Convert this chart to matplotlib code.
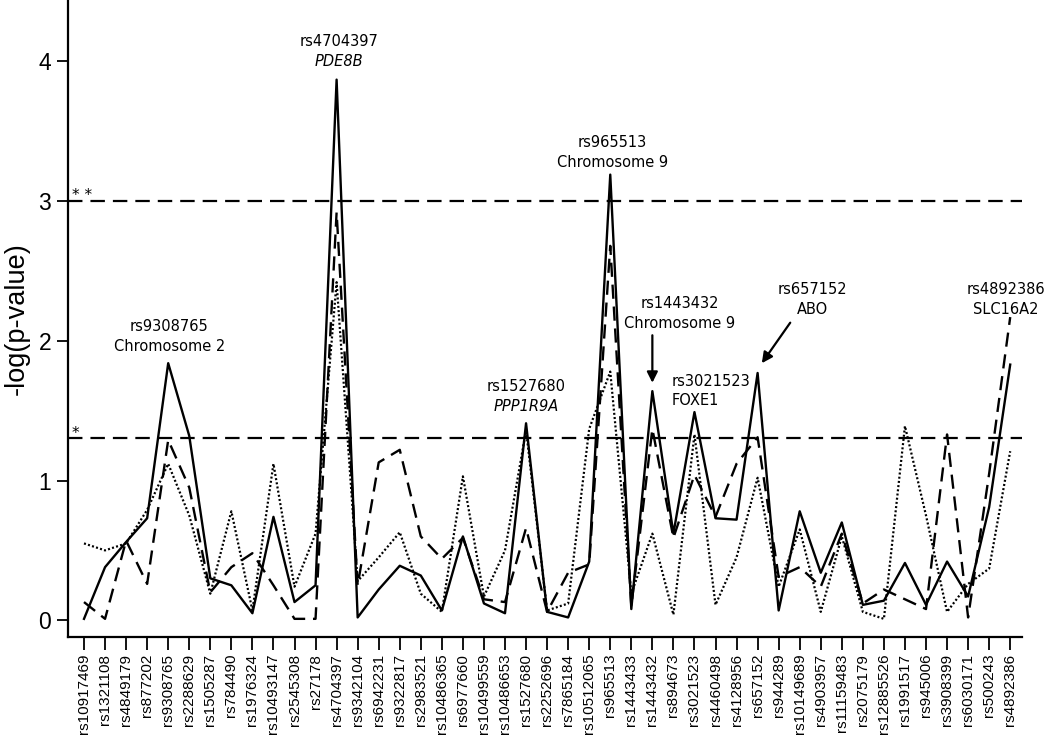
#!/usr/bin/env python3
"""Line plot of -log(p-value) per SNP for three association tests."""

import matplotlib

matplotlib.use("Agg")
import matplotlib.pyplot as plt


OUTPUT = "out.png"

SNPS = [
    "rs10917469", "rs1321108", "rs4849179", "rs877202", "rs9308765", "rs2288629",
    "rs1505287", "rs784490", "rs1976324", "rs10493147", "rs2545308", "rs27178",
    "rs4704397", "rs9342104", "rs6942231", "rs9322817", "rs2983521", "rs10486365",
    "rs6977660", "rs10499559", "rs10486653", "rs1527680", "rs2252696", "rs7865184",
    "rs10512065", "rs965513", "rs1443433", "rs1443432", "rs894673", "rs3021523",
    "rs4460498", "rs4128956", "rs657152", "rs944289", "rs10149689", "rs4903957",
    "rs11159483", "rs2075179", "rs12885526", "rs1991517", "rs945006", "rs3908399",
    "rs6030171", "rs500243", "rs4892386",
]

SOLID = [
    0.01, 0.38, 0.56, 0.73, 1.84, 1.32, 0.30, 0.25, 0.05, 0.74, 0.13, 0.25,
    3.87, 0.02, 0.22, 0.39, 0.32, 0.07, 0.60, 0.12, 0.05, 1.41, 0.06, 0.02,
    0.42, 3.19, 0.08, 1.64, 0.62, 1.49, 0.73, 0.72, 1.77, 0.07, 0.78, 0.34,
    0.70, 0.11, 0.14, 0.41, 0.11, 0.42, 0.17, 0.81, 1.83,
]

DASHED = [
    0.13, 0.01, 0.57, 0.26, 1.29, 0.95, 0.20, 0.38, 0.48, 0.25, 0.01, 0.01,
    2.92, 0.25, 1.13, 1.22, 0.60, 0.44, 0.59, 0.15, 0.13, 0.66, 0.06, 0.34,
    0.40, 2.68, 0.10, 1.37, 0.59, 1.04, 0.74, 1.12, 1.31, 0.31, 0.38, 0.24,
    0.62, 0.12, 0.22, 0.15, 0.08, 1.33, 0.02, 1.05, 2.17,
]

DOTTED = [
    0.55, 0.50, 0.55, 0.79, 1.12, 0.75, 0.19, 0.78, 0.07, 1.12, 0.24, 0.62,
    2.42, 0.28, 0.45, 0.63, 0.19, 0.06, 1.03, 0.17, 0.50, 1.36, 0.07, 0.12,
    1.37, 1.78, 0.19, 0.62, 0.04, 1.33, 0.11, 0.45, 1.02, 0.24, 0.65, 0.06,
    0.60, 0.06, 0.01, 1.39, 0.75, 0.06, 0.26, 0.37, 1.21,
]

# significance thresholds: p = 0.05 and p = 0.001
THRESHOLDS = [1.301, 3.0]
THRESHOLD_MARKS = ["*", "* *"]

# (x, y, line 1, line 2, italic second line)
LABELS = [
    (4.05, 2.10, "rs9308765", "Chromosome 2", False),
    (12.1, 4.14, "rs4704397", "PDE8B", True),
    (21.0, 1.67, "rs1527680", "PPP1R9A", True),
    (25.1, 3.42, "rs965513", "Chromosome 9", False),
    (28.3, 2.27, "rs1443432", "Chromosome 9", False),
    (34.6, 2.37, "rs657152", "ABO", False),
    (43.8, 2.37, "rs4892386", "SLC16A2", False),
]

ANNOT_FONT = "DejaVu Sans"
AXIS_FONT = "Liberation Sans"


def main() -> None:
    fig = plt.figure(figsize=(10.5, 7.36), dpi=100)
    ax = fig.add_axes([68 / 1050, 1 - 637 / 736, 954 / 1050, 637 / 736])

    x = list(range(len(SNPS)))
    ax.plot(x, SOLID, color="black", linewidth=1.7)
    ax.plot(x, DASHED, color="black", linewidth=1.7, dashes=(6.0, 3.3))
    ax.plot(x, DOTTED, color="black", linewidth=1.6, dashes=(0.9, 1.0))

    for level, mark in zip(THRESHOLDS, THRESHOLD_MARKS):
        ax.axhline(level, color="black", linewidth=1.6, dashes=(6.5, 3.6))
        ax.text(-0.57, level + 0.005, mark, ha="left", va="baseline",
                fontsize=11, family=ANNOT_FONT)

    step = 0.143
    for xi, yi, top, bottom, italic in LABELS:
        ax.text(xi, yi, top, ha="center", va="center", fontsize=10.5, family=ANNOT_FONT)
        ax.text(xi, yi - step, bottom, ha="center", va="center", fontsize=10.5,
                family=ANNOT_FONT, style="italic" if italic else "normal")

    # FOXE1 label is left aligned
    ax.text(27.93, 1.71, "rs3021523", ha="left", va="center", fontsize=10.5, family=ANNOT_FONT)
    ax.text(27.93, 1.57, "FOXE1", ha="left", va="center", fontsize=10.5, family=ANNOT_FONT)

    arrow = dict(arrowstyle="-|>", color="black", linewidth=1.6, mutation_scale=16,
                 shrinkA=0, shrinkB=0)
    ax.annotate("", xy=(27.0, 1.70), xytext=(27.0, 2.04), arrowprops=arrow)
    ax.annotate("", xy=(32.2, 1.84), xytext=(33.55, 2.13), arrowprops=arrow)

    ax.set_xlim(-0.76, 44.56)
    ax.set_ylim(-0.12, 4.44)
    ax.set_xticks(x)
    ax.set_xticklabels(SNPS, rotation=90, fontsize=11, family=AXIS_FONT)
    ax.set_yticks([0, 1, 2, 3, 4])
    ax.set_yticklabels(["0", "1", "2", "3", "4"], fontsize=16.5, family=AXIS_FONT)
    ax.tick_params(axis="y", direction="out", length=8, width=1.3, pad=4)
    ax.tick_params(axis="x", direction="out", length=9, width=1.3, pad=3)
    ax.set_ylabel("-log(p-value)", fontsize=19.5, family=AXIS_FONT, labelpad=6)

    ax.spines["top"].set_visible(False)
    ax.spines["right"].set_visible(False)
    ax.spines["left"].set_linewidth(1.6)
    ax.spines["bottom"].set_linewidth(1.6)

    fig.savefig(OUTPUT, dpi=100)
    plt.close(fig)


if __name__ == "__main__":
    main()
